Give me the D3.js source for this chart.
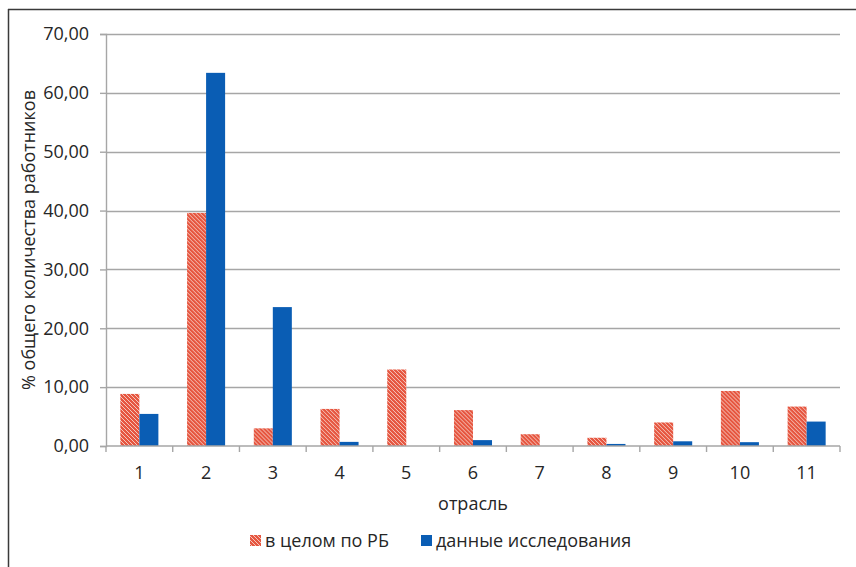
<!DOCTYPE html>
<html>
<head>
<meta charset="utf-8">
<script src="https://cdn.jsdelivr.net/npm/d3@7"></script>
<style>
  html, body { margin: 0; padding: 0; background: #fff; }
  svg { display: block; }
  text { font-family: "Open Sans", "DejaVu Sans", sans-serif; fill: #262626; font-weight: 500; }
</style>
</head>
<body>
<svg id="chart" width="856" height="567"></svg>
<script>
// Industry codes (отрасль)
const categories = ["1", "2", "3", "4", "5", "6", "7", "8", "9", "10", "11"];
// Share of workers, %: whole republic vs. survey sample
const seriesNames = ["в целом по РБ", "данные исследования"];
const rbValues = [8.85, 39.6, 3.0, 6.3, 13.0, 6.1, 2.0, 1.4, 4.0, 9.35, 6.7];
const surveyValues = [5.45, 63.4, 23.6, 0.7, 0.0, 1.0, 0.0, 0.35, 0.8, 0.65, 4.15];
const yTicks = [0, 10, 20, 30, 40, 50, 60, 70];

const svg = d3.select("#chart");
const W = 856, H = 567;
const margin = { left: 106, right: 16, top: 34, bottom: 121 };
const plotW = W - margin.left - margin.right;
const plotH = H - margin.top - margin.bottom;

const RED = "#e65640";
const BLUE = "#0a5db4";

// Hatched fill for the republic-wide series
const defs = svg.append("defs");
const pat = defs.append("pattern")
  .attr("id", "hatch")
  .attr("patternUnits", "userSpaceOnUse")
  .attr("width", 4).attr("height", 4);
pat.append("rect").attr("width", 4).attr("height", 4).attr("fill", RED);
pat.append("path")
  .attr("d", "M-1,-1 L5,5 M-1,3 L1,5 M3,-1 L5,1")
  .attr("stroke", "#f7d2ca").attr("stroke-width", 0.9);

// Frame lines
svg.append("line").attr("x1", 8).attr("x2", W).attr("y1", 9.5).attr("y2", 9.5)
  .attr("stroke", "#3a3a3a").attr("stroke-width", 1.5);
svg.append("line").attr("x1", 8.5).attr("x2", 8.5).attr("y1", 9).attr("y2", H)
  .attr("stroke", "#3a3a3a").attr("stroke-width", 1.5);

const g = svg.append("g").attr("transform", `translate(${margin.left},${margin.top})`);

const x = d3.scaleBand().domain(categories).range([0, plotW]).paddingInner(0).paddingOuter(0);
const inner = d3.scaleBand().domain(seriesNames).range([x.bandwidth() * 0.215, x.bandwidth() * 0.785]);
const y = d3.scaleLinear().domain([0, 70]).range([plotH, 0]);

// Horizontal gridlines
g.append("g").selectAll("line").data(yTicks.filter(d => d > 0)).join("line")
  .attr("x1", 0).attr("x2", plotW)
  .attr("y1", d => Math.round(y(d)) + 0.5).attr("y2", d => Math.round(y(d)) + 0.5)
  .attr("stroke", "#a6a6a6").attr("stroke-width", 1.4);

// Y axis
const yAxis = g.append("g")
  .call(d3.axisLeft(y).tickValues(yTicks).tickSize(6).tickPadding(11)
    .tickFormat(d => d3.format(".2f")(d).replace(".", ",")));
yAxis.select(".domain").attr("stroke", "#a6a6a6").attr("stroke-width", 1.4);
yAxis.selectAll(".tick line").attr("stroke", "#a6a6a6").attr("stroke-width", 1.4);
yAxis.selectAll(".tick text").style("font-size", "18px").attr("fill", "#262626");

// Bars
const groups = g.append("g").selectAll("g").data(categories).join("g")
  .attr("transform", d => `translate(${x(d)},0)`);
groups.append("rect")
  .attr("x", inner(seriesNames[0])).attr("width", inner.bandwidth())
  .attr("y", (d, i) => y(rbValues[i])).attr("height", (d, i) => y(0) - y(rbValues[i]))
  .attr("fill", "url(#hatch)");
groups.append("rect")
  .attr("x", inner(seriesNames[1])).attr("width", inner.bandwidth())
  .attr("y", (d, i) => y(surveyValues[i])).attr("height", (d, i) => y(0) - y(surveyValues[i]))
  .attr("fill", BLUE);

// X axis with ticks on category boundaries
const xAxisG = g.append("g").attr("transform", `translate(0,${plotH})`);
xAxisG.append("line").attr("x1", 0).attr("x2", plotW).attr("y1", 0).attr("y2", 0)
  .attr("stroke", "#a6a6a6").attr("stroke-width", 1.4);
const bounds = categories.map(c => x(c)).concat([plotW]);
xAxisG.selectAll("line.tk").data(bounds).join("line").attr("class", "tk")
  .attr("x1", d => d).attr("x2", d => d).attr("y1", 0).attr("y2", 6)
  .attr("stroke", "#a6a6a6").attr("stroke-width", 1.4);
xAxisG.selectAll("text").data(categories).join("text")
  .attr("x", d => x(d) + x.bandwidth() / 2).attr("y", 33)
  .attr("text-anchor", "middle").style("font-size", "18px").text(d => d);

// Axis titles
g.append("text").attr("x", plotW / 2).attr("y", plotH + 64)
  .attr("text-anchor", "middle").style("font-size", "18px").text("отрасль");
svg.append("text")
  .attr("transform", `translate(35,${margin.top + plotH / 2}) rotate(-90)`)
  .attr("text-anchor", "middle").style("font-size", "18px")
  .text("% общего количества работников");

// Legend
const legend = svg.append("g").attr("transform", "translate(250,540)");
const items = [
  { name: seriesNames[0], fill: "url(#hatch)", x: 0 },
  { name: seriesNames[1], fill: BLUE, x: 171 }
];
const li = legend.selectAll("g").data(items).join("g").attr("transform", d => `translate(${d.x},0)`);
li.append("rect").attr("x", 0).attr("y", -5).attr("width", 11).attr("height", 11).attr("fill", d => d.fill);
li.append("text").attr("x", 15).attr("y", 6.5).style("font-size", "18px").text(d => d.name);
</script>
</body>
</html>
